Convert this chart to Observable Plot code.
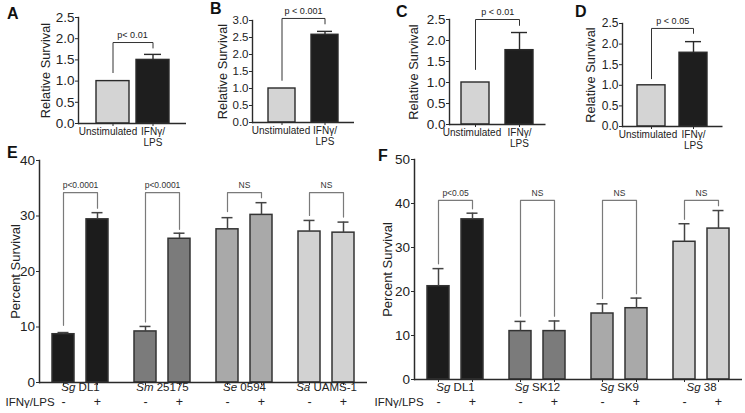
<!DOCTYPE html>
<html><head><meta charset="utf-8">
<script src="https://cdn.jsdelivr.net/npm/d3@7"></script>
<script src="https://cdn.jsdelivr.net/npm/@observablehq/plot@0.6"></script>
<style>
body{margin:0;background:#fff;font-family:"Liberation Sans",Arial,sans-serif;}
#fig{position:relative;width:745px;height:413px;overflow:hidden;background:#fff;}
#fig svg{position:absolute;overflow:visible;}
.letter{position:absolute;font-weight:bold;font-size:16px;line-height:16px;color:#111;}
</style></head>
<body><div id="fig"></div>
<script>
// ---------- data ----------
const topConds = ["Unstimulated", "IFNγ/LPS"];
const topTickLabels = ["Unstimulated", "IFNγ/\nLPS"];
const topColors = ["#d4d4d4", "#1e1e1e"];

const aValues = [1.0, 1.5];   const aErr = [null, 1.63];
const bValues = [1.0, 2.58];  const bErr = [null, 2.68];
const cValues = [1.0, 1.77];  const cErr = [null, 2.19];
const dValues = [1.0, 1.79];  const dErr = [null, 2.06];
// bracket: [top, left leg end, right leg end]
const aBracket = [1.91, 1.2, 1.78];   const aP = "p< 0.01";
const bBracket = [3.06, 1.24, 2.9];   const bP = "p < 0.001";
const cBracket = [2.5, 1.31, 2.36];   const cP = "p < 0.01";
const dBracket = [2.38, 1.16, 2.26];  const dP = "p < 0.05";
const aTicks = [0, 0.5, 1.0, 1.5, 2.0, 2.5];
const bTicks = [0, 0.5, 1.0, 1.5, 2.0, 2.5, 3.0];

const groupColors = ["#1c1c1c", "#7b7b7b", "#a9a9a9", "#d2d2d2"];
const signs = ["-", "+"];

const eStrains = ["Sg DL1", "Sm 25175", "Se 0594", "Sa UAMS-1"];
const eMinus = [8.7, 9.2, 27.6, 27.2];
const eMinusErr = [9.0, 10.1, 29.7, 29.2];
const ePlus = [29.4, 25.9, 30.2, 27.0];
const ePlusErr = [30.6, 26.9, 32.4, 28.9];
const eBrTop = [34.2, 34.2, 34.2, 34.2];
const eBrMinus = [10.3, 10.9, 30.8, 30.1];
const eBrPlus = [31.4, 27.6, 33.3, 29.8];
const eP = ["p<0.0001", "p<0.0001", "NS", "NS"];
const eTicks = [0, 10, 20, 30, 40];

const fStrains = ["Sg DL1", "Sg SK12", "Sg SK9", "Sg 38"];
const fMinus = [21.2, 11.0, 15.0, 31.3];
const fMinusErr = [25.2, 13.2, 17.2, 35.4];
const fPlus = [36.4, 11.0, 16.2, 34.3];
const fPlusErr = [37.8, 13.3, 18.5, 38.4];
const fBrTop = [40.7, 40.7, 40.7, 40.7];
const fBrMinus = [26.3, 14.4, 18.4, 36.4];
const fBrPlus = [38.8, 14.4, 19.5, 39.5];
const fP = ["p<0.05", "NS", "NS", "NS"];
const fTicks = [0, 10, 20, 30, 40, 50];

// ---------- drawing ----------
const fig = document.getElementById("fig");
const FONT = "'Liberation Sans', Arial, sans-serif";
const INK = "#2a2a2a";

function place(svg, left, top) {
  svg.style.left = left + "px";
  svg.style.top = top + "px";
  fig.appendChild(svg);
}
function letter(t, x, y) {
  const d = document.createElement("div");
  d.className = "letter"; d.textContent = t;
  d.style.left = x + "px"; d.style.top = y + "px";
  fig.appendChild(d);
}

function topPanel(c) {
  const rows = topConds.map((k, i) => ({cond: k, value: c.values[i], err: c.errs[i]}));
  const errRows = rows.filter(d => d.err != null);
  const br = [
    {cond: topConds[0], y: c.bracket[1]}, {cond: topConds[0], y: c.bracket[0]},
    {cond: topConds[1], y: c.bracket[0]}, {cond: topConds[1], y: c.bracket[2]}
  ];
  const svg = Plot.plot({
    width: c.w, height: 150,
    marginLeft: c.ml, marginRight: c.mr, marginTop: c.mt, marginBottom: c.mb,
    style: {fontFamily: FONT, color: "#222", background: "transparent", overflow: "visible"},
    x: {domain: topConds, paddingInner: c.pi, paddingOuter: c.po},
    y: {domain: [0, c.yMax]},
    color: {domain: topConds, range: topColors},
    marks: [
      Plot.barY(rows, {x: "cond", y: "value", fill: "cond", stroke: INK, strokeWidth: 1.4}),
      Plot.ruleX(errRows, {x: "cond", y1: "value", y2: "err", stroke: INK, strokeWidth: 1.4}),
      Plot.tickY(errRows, {x: "cond", y: "err", stroke: INK, strokeWidth: 1.4, insetLeft: c.cap, insetRight: c.cap}),
      Plot.line(br, {x: "cond", y: "y", stroke: "#333", strokeWidth: 1}),
      Plot.text([c.p], {y: c.bracket[0], text: d => d, dy: -7, fontSize: 9, fill: "#222"}),
      Plot.ruleY([0], {stroke: INK, strokeWidth: 1.4}),
      Plot.frame({anchor: "left", stroke: INK, strokeWidth: 1.4}),
      Plot.axisY({ticks: c.ticks, tickFormat: d3.format(".1f"), tickSize: 3, tickPadding: 1, fontSize: c.tf, label: null, stroke: INK}),
      Plot.axisX({tickSize: 3, tickPadding: 1, fontSize: 10, lineHeight: 1.1, label: null, stroke: INK,
                  tickFormat: d => topTickLabels[topConds.indexOf(d)]}),
      Plot.text(["Relative Survival"], {frameAnchor: "left", textAnchor: "middle", dx: c.ldx, rotate: -90, fontSize: 12.8, fill: "#222"})
    ]
  });
  // the first category label sits slightly left of its tick
  d3.select(svg).selectAll('g[aria-label="x-axis tick label"] text')
    .filter((d, i) => i === 0).attr("dx", c.shift);
  place(svg, c.left, 0);
}

topPanel({values: aValues, errs: aErr, bracket: aBracket, p: aP, ticks: aTicks, yMax: 2.5,
  left: 0, w: 190, ml: 78, mr: 4, mt: 17, mb: 27, pi: 0.175, po: 0.4375, cap: 8, tf: 13.5, ldx: -33, shift: -5});
topPanel({values: bValues, errs: bErr, bracket: bBracket, p: bP, ticks: bTicks, yMax: 3.0,
  left: 185, w: 175, ml: 67, mr: 6, mt: 20, mb: 28, pi: 0.379, po: 0.368, cap: 6, tf: 11.5, ldx: -30, shift: -1});
topPanel({values: cValues, errs: cErr, bracket: cBracket, p: cP, ticks: aTicks, yMax: 2.5,
  left: 370, w: 180, ml: 79, mr: 4.5, mt: 19, mb: 26, pi: 0.36, po: 0.264, cap: 6, tf: 13.5, ldx: -36, shift: -3.5});
topPanel({values: dValues, errs: dErr, bracket: dBracket, p: dP, ticks: aTicks, yMax: 2.5,
  left: 555, w: 190, ml: 67, mr: 22.5, mt: 23, mb: 24, pi: 0.33, po: 0.347, cap: 6, tf: 12, ldx: -32, shift: -3.5});

function bottomPanel(c) {
  const rows = [];
  c.strains.forEach((s, i) => {
    rows.push({strain: s, cond: signs[0], value: c.minus[i], err: c.minusErr[i]});
    rows.push({strain: s, cond: signs[1], value: c.plus[i], err: c.plusErr[i]});
  });
  const br = [];
  c.strains.forEach((s, i) => {
    br.push({strain: s, cond: signs[0], y: c.brMinus[i]});
    br.push({strain: s, cond: signs[0], y: c.brTop[i]});
    br.push({strain: s, cond: signs[1], y: c.brTop[i]});
    br.push({strain: s, cond: signs[1], y: c.brPlus[i]});
  });
  const labs = c.strains.map((s, i) => ({strain: s, top: c.brTop[i], p: c.p[i]}));
  const first = [{strain: c.strains[0]}];
  const svg = Plot.plot({
    width: c.w, height: 273,
    marginLeft: c.ml, marginRight: c.mr, marginTop: c.mt, marginBottom: c.mb,
    style: {fontFamily: FONT, color: "#222", background: "transparent", overflow: "visible"},
    fx: {domain: c.strains, paddingInner: 0, paddingOuter: 0},
    x: {domain: signs, paddingInner: 0.34, paddingOuter: 0.352},
    y: {domain: [0, c.yMax]},
    color: {domain: c.strains, range: groupColors},
    marks: [
      Plot.barY(rows, {fx: "strain", x: "cond", y: "value", fill: "strain", stroke: "#333", strokeWidth: 1.5}),
      Plot.ruleX(rows, {fx: "strain", x: "cond", y1: "value", y2: "err", stroke: "#444", strokeWidth: 1.5}),
      Plot.tickY(rows, {fx: "strain", x: "cond", y: "err", stroke: "#444", strokeWidth: 1.5, insetLeft: 5.5, insetRight: 5.5}),
      Plot.line(br, {fx: "strain", x: "cond", y: "y", z: "strain", stroke: "#7a7a7a", strokeWidth: 1.2}),
      Plot.text(labs, {fx: "strain", y: "top", text: "p", dy: -7, fontSize: 8.5, fill: "#333"}),
      Plot.ruleY([0], {stroke: INK, strokeWidth: 1.5}),
      Plot.frame({anchor: "left", facetAnchor: "left", stroke: INK, strokeWidth: 1.5}),
      Plot.axisY({ticks: c.ticks, tickSize: 3, tickPadding: 1.5, fontSize: 13.5, label: null, stroke: INK}),
      Plot.axisX({tickSize: 3, tickPadding: c.signPad, fontSize: 12.5, label: null, stroke: INK}),
      Plot.axisFx({anchor: "bottom", tickSize: 0, tickPadding: c.strainPad, fontSize: 11.5, label: null}),
      Plot.text(first, {fx: "strain", text: () => "IFNγ/LPS", frameAnchor: "bottom-left", textAnchor: "start",
                        lineAnchor: "top", dx: c.ifnDx, dy: c.signPad + 3, fontSize: 11.5, fill: "#222"}),
      Plot.text(first, {fx: "strain", text: () => "Percent Survival", frameAnchor: "left", textAnchor: "middle",
                        rotate: -90, dx: c.ldx, fontSize: 13, fill: "#222"})
    ]
  });
  // italic species names in strain labels
  d3.select(svg).selectAll('g[aria-label="fx-axis tick label"] text').each(function () {
    const t = this.textContent;
    const k = t.indexOf(" ");
    if (k < 0) return;
    const sel = d3.select(this);
    sel.text(null);
    sel.append("tspan").attr("font-style", "italic").text(t.slice(0, k));
    sel.append("tspan").text(t.slice(k));
  });
  place(svg, c.left, 140);
}

bottomPanel({strains: eStrains, minus: eMinus, minusErr: eMinusErr, plus: ePlus, plusErr: ePlusErr,
  brTop: eBrTop, brMinus: eBrMinus, brPlus: eBrPlus, p: eP, ticks: eTicks, yMax: 40,
  left: 0, w: 372, ml: 37, mr: 4, mt: 20, mb: 31, signPad: 12, strainPad: 0.5, ifnDx: -34, ldx: -24});
bottomPanel({strains: fStrains, minus: fMinus, minusErr: fMinusErr, plus: fPlus, plusErr: fPlusErr,
  brTop: fBrTop, brMinus: fBrMinus, brPlus: fBrPlus, p: fP, ticks: fTicks, yMax: 50,
  left: 375, w: 370, ml: 38, mr: 3, mt: 19, mb: 34, signPad: 15, strainPad: 3, ifnDx: -40, ldx: -27});

letter("A", 7, 6);
letter("B", 210, 1);
letter("C", 396, 4);
letter("D", 575, 4);
letter("E", 7, 145);
letter("F", 378, 148);
</script>
</body></html>
